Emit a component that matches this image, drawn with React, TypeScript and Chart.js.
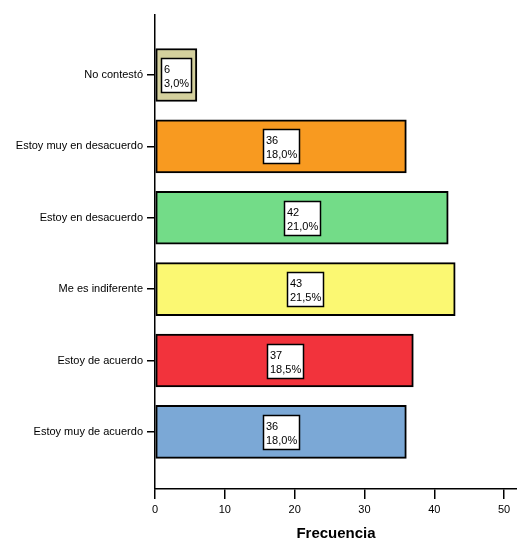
import React, { useEffect, useRef } from "react";
import { Chart, registerables } from "chart.js";

Chart.register(...registerables);

const categories = [
  "No contestó",
  "Estoy muy en desacuerdo",
  "Estoy en desacuerdo",
  "Me es indiferente",
  "Estoy de acuerdo",
  "Estoy muy de acuerdo",
];
const frequencies = [6, 36, 42, 43, 37, 36];
const percentLabels = ["3,0%", "18,0%", "21,0%", "21,5%", "18,5%", "18,0%"];
const barColors = ["#d4d09d", "#f89a20", "#73dc88", "#fbf872", "#f2333c", "#7ba8d6"];
const xTicks = [0, 10, 20, 30, 40, 50];

const FONT = "'Liberation Sans', Arial, sans-serif";

const labelPlugin = {
  id: "boxLabels",
  afterDatasetsDraw(chart: any) {
    const ctx = chart.ctx;
    const meta = chart.getDatasetMeta(0);
    ctx.save();
    ctx.font = `11px ${FONT}`;
    ctx.textBaseline = "alphabetic";
    ctx.textAlign = "left";
    meta.data.forEach((el: any, i: number) => {
      const props = el.getProps(["x", "y", "base"], true);
      const cx = (props.x + props.base) / 2;
      const cy = props.y;
      const l1 = String(frequencies[i]);
      const l2 = percentLabels[i];
      const w = Math.round(Math.max(ctx.measureText(l1).width, ctx.measureText(l2).width) + 5);
      const h = 34;
      const x0 = Math.round(cx - w / 2) + 0.5;
      const y0 = Math.round(cy - h / 2) + 0.5;
      ctx.fillStyle = "#ffffff";
      ctx.fillRect(x0, y0, w, h);
      ctx.strokeStyle = "#000000";
      ctx.lineWidth = 1.5;
      ctx.strokeRect(x0, y0, w, h);
      ctx.fillStyle = "#000000";
      ctx.fillText(l1, x0 + 2.5, y0 + 14);
      ctx.fillText(l2, x0 + 2.5, y0 + 28);
    });
    ctx.restore();
  },
};

export default function App() {
  const ref = useRef<HTMLCanvasElement | null>(null);
  useEffect(() => {
    if (!ref.current) return;
    Chart.defaults.font.family = FONT;
    const chart = new Chart(ref.current, {
      type: "bar",
      data: {
        datasets: [
          {
            data: frequencies.map((v, i) => ({ x: v, y: i })),
            backgroundColor: barColors,
            borderColor: "#000000",
            borderWidth: 2,
            borderSkipped: false,
            barThickness: 53,
          },
        ],
      },
      options: {
        indexAxis: "y",
        animation: false,
        responsive: false,
        maintainAspectRatio: false,
        layout: { padding: { top: 15, right: 0, left: 0, bottom: 0 } },
        plugins: {
          legend: { display: false },
          tooltip: { enabled: false },
        },
        scales: {
          x: {
            type: "linear",
            min: 0,
            max: 51.85,
            offset: false,
            afterBuildTicks: (scale: any) => {
              scale.ticks = xTicks.map((v) => ({ value: v }));
            },
            afterFit: (scale: any) => {
              scale.height = 54;
            },
            grid: {
              drawOnChartArea: false,
              drawTicks: true,
              tickLength: 10,
              color: "#000000",
              lineWidth: 1.5,
              offset: false,
            },
            border: { display: true, color: "#000000", width: 1.5 },
            ticks: {
              color: "#000000",
              font: { size: 11, family: FONT },
              padding: 4,
              maxRotation: 0,
            },
            title: {
              display: true,
              text: "Frecuencia",
              color: "#000000",
              font: { size: 15, weight: "bold", family: FONT },
              padding: { top: 2, bottom: 0 },
            },
          },
          y: {
            type: "linear",
            reverse: true,
            min: -0.84,
            max: 5.8,
            offset: false,
            afterBuildTicks: (scale: any) => {
              scale.ticks = categories.map((_, i) => ({ value: i }));
            },
            afterFit: (scale: any) => {
              scale.width = 155;
            },
            grid: {
              drawOnChartArea: false,
              drawTicks: true,
              tickLength: 8,
              color: "#000000",
              lineWidth: 1.5,
              offset: false,
            },
            border: { display: true, color: "#000000", width: 1.5 },
            ticks: {
              color: "#000000",
              font: { size: 11, family: FONT },
              padding: 4,
              callback: (v: any) => categories[Number(v)] ?? "",
            },
          },
        },
      },
      plugins: [labelPlugin],
    } as any);
    return () => chart.destroy();
  }, []);
  return (
    <div style={{ position: "absolute", left: 0, top: 0, width: 517, height: 543, background: "#fff" }}>
      <canvas ref={ref} width={517} height={543} style={{ width: 517, height: 543 }} />
    </div>
  );
}
